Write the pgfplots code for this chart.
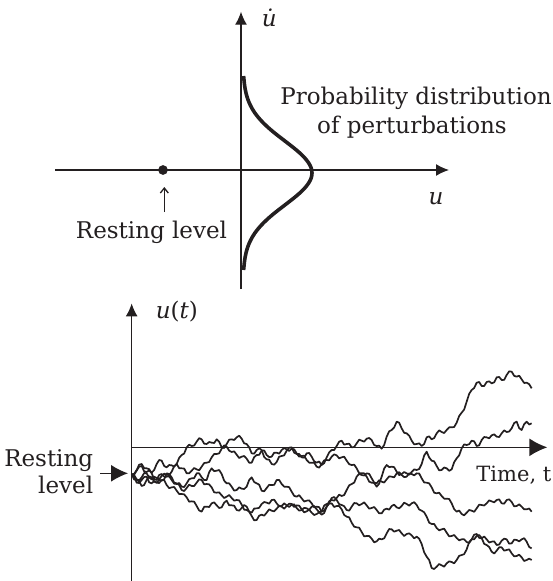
\documentclass[border=0pt]{standalone}
\usepackage{pgfplots}
\pgfplotsset{compat=1.18}
\usepackage{pgfplotstable}
\usepackage{fontspec}
\setmainfont{DejaVu Serif}
\usetikzlibrary{arrows.meta}
\definecolor{ink}{RGB}{35,31,32}

\pgfplotstableread{
X A B C D E
35 403 403 403 403 403
42.5 403.5 405.5 401.5 409.5 418.5
50 392 418 390 428 420
57.5 380 421 374 429 424
65 378 412 372 420 438
72.5 394 399 384.5 411 435
80 396 400 385 410 420
87.5 391 413 387.5 427 409
95 398 418 400 430 412
102.5 390 410 417 423 425
110 372 414 420 428 428
117.5 360 418 405 429 419
125 362 408 402 420 422
132.5 378 401 410 420.5 418
140 382 404 410 435 400
147.5 375 405.5 409 444.5 402
155 376 395 420 442 412
162.5 380 378.5 431 441 428
170 372 372 432 452 430
177.5 353.5 384.5 429 462 435
185 345 385 440 462 450
192.5 340.5 385.5 441 463 453
200 322 400 430 472 444
207.5 314 400 417.5 485 434
215 318 392 415 484 438
222.5 316.5 384 414.5 485 438
230 305 388 400 498 428
237.5 294.5 391 400 511.5 418
245 298 380 412 515 420
252.5 311 369 420 500.5 433
260 312 368 420 500 432
267.5 306 366 396.5 501 433
275 308 352 385 490 442
282.5 309 342 393.5 487 457
290 298 342 392 496 458
297.5 305 340 390 504 457
305 322 326 402 502 466
312.5 324 316 422 488 474
320 312 320 430 482 470
327.5 299 332 430 496 465
335 298 336 440 496 474
342.5 300 334 452 497 482
350 292 344 450 510 480
357.5 287 354 442 512 481
365 296 350 446 504 494
372.5 310 348 447 495 509
380 312 356 440 500 510
387.5 322 368 420 515 515
395 340 368 412 518 528
402.5 341 351.5 426 505.5 541
410 330 345 430 505 540
417.5 325 344.5 434 503.5 527
425 330 332 452 492 524
432.5 351 331.5 454 486 527
440 358 345 444 488 518
447.5 359 351.5 434.5 491 508
455 372 350 435 480 512
462.5 374 338 434.5 479 514
470 366 338 420 490 506
477.5 350 341 420 499 497
485 348 330 432 498 500
492.5 346 324 440 490 506
500 332 328 440 496 498
507.5 323 333 441.5 501 491
515 322 326 455 494 492
522.5 338 328 467.5 493 501
530 342 340 470 504 496
537.5 342 350 465.5 512 497
545 352 348 475 510 508
552.5 353 347 484.5 503.5 517
560 340 360 482 505 514
567.5 339 368 481 509.5 509
575 350 368 490 500 518
582.5 364 368 502 498 525
590 368 380 500 508 522
597.5 364.5 383 501.5 516.5 517
605 375 372 515 515 524
612.5 369.5 361 511.5 496.5 519
620 352 360 500 492 500
627.5 337 361 484 489 491
635 330 350 480 474 490
642.5 330 343 482 471 501
650 318 346 474 480 498
657.5 305 355 464 492.5 498
665 302 352 468 495 508
672.5 314 350 465 498.5 525
680 312 362 450 510 530
687.5 311 372.5 436 512 532
695 322 375 432 500 548
702.5 321 374 428 489 560
710 310 385 410 490 562
717.5 299 399.5 401.5 496 563
725 302 400 405 492 576
732.5 305 400 406.5 487 589
740 296 410 400 496 588
747.5 294 425 401.5 506 588
755 300 428 415 504 596
762.5 315 429 427.5 501 607
770 318 440 430 510 604
777.5 317 431 420.5 520 596
785 326 410 425 520 598
792.5 315 385.5 427.5 509 595
800 290 375 418 506 580
807.5 274 381.5 409 509 567
815 270 380 410 498 568
822.5 262.5 381.5 412 494 575
830 245 395 400 502 572
837.5 248 405.5 396.5 505 570
845 265 402 405 498 580
852.5 278.5 396 411.5 488 588
860 280 400 410 492 582
867.5 287 404 400 497 580
875 302 396 402 490 586
882.5 313 388 406 486.5 595
890 312 390 400 495 590
897.5 310 387 400.5 508.5 596
905 318 372 415 512 612
912.5 312 346.5 427.5 517 637
920 292 335 428 530 650
927.5 289 352.5 430 548 660
935 298 362 442 552 684
942.5 294 364 458 552 687
950 280 378 460 564 680
957.5 271 391 458 571 672
965 276 390 468 568 676
972.5 279 382.5 476 566 680
980 270 385 476 578 670
987.5 262 392.5 477 589 664
995 262 388 490 588 666
1002.5 261 366.5 507.5 585 670
1010 248 355 515 594 660
1017.5 228 346 511.5 601 647.5
1025 218 325 522 598 645
1032.5 208.5 313 526 598 642.5
1040 185 315 518 606 628
1047.5 161.5 312.5 510 609 606
1055 150 302 512 598 598
1062.5 144 304 515.5 584 598
1070 128 318 505 582 588
1077.5 126 316 494 593.5 585
1085 138 300 495 595 594
1092.5 138 291 496.5 589.5 611.5
1100 126 292 490 598 615
1107.5 124 295 481 607.5 621
1115 130 286 484 605 635
1122.5 127 283 487 604 640.5
1130 112 290 480 615 632
1137.5 111 291 478 613.5 622
1145 120 280 490 602 622
1152.5 119.5 271 491 596 632
1160 105 276 480 598 630
1167.5 94 274.5 478 611 628
1175 95 265 486 610 640
1182.5 107.5 249 499 599 649
1190 110 245 498 600 648
1197.5 107 264.5 493 604 644
1205 118 270 500 598 652
1212.5 129 252.5 508 594.5 663
1220 128 245 508 605 660
1227.5 132.5 253.5 505.5 621 656
1235 145 250 515 625 660
}\walks

\begin{document}
\fontsize{23}{29}\selectfont
\begin{tikzpicture}
% top panel + all labels, coordinates in image pixels (y downwards)
\begin{axis}[name=top, at={(0,0)}, anchor=south west,
  width=552pt, height=581pt, scale only axis,
  xmin=0, xmax=552, ymin=0, ymax=581, y dir=reverse,
  hide axis, clip=false]
\addplot[ink, line width=1.3pt, -{Latex[length=13pt,width=12pt]}] coordinates {(55,170) (449,170)};
\addplot[ink, line width=1.3pt, -{Latex[length=13pt,width=12pt]}] coordinates {(241,289) (241,11.7)};
\addplot[ink, only marks, mark=*, mark size=4.6pt] coordinates {(163,170)};
\addplot[ink, line width=1.3pt, -{Straight Barb[length=5pt,width=8pt]}] coordinates {(164.3,212) (164.3,187)};
\addplot[ink, line width=3.6pt, smooth] coordinates {
(243.6,76) (244.3,83) (245,88) (246,93) (247.4,98) (249.3,103) (251.8,108)
(254.9,113) (258.8,118) (263.4,123) (268.7,128) (274.6,133) (281,138)
(287.5,143) (293.9,148) (299.8,153) (304.8,158) (308.7,163) (311.2,168)
(312,173)
(311.2,178) (308.7,183) (304.8,188) (299.8,193) (293.9,198) (287.5,203)
(281,208) (274.6,213) (268.7,218) (263.4,223) (258.8,228) (254.9,233)
(251.8,238) (249.3,243) (247.4,248) (246,253) (245,258) (244.3,263) (243.6,270)};
\node[ink, anchor=base west] at (axis cs:254,26.7) {\textit{\.{u}}};
\node[ink, anchor=base] at (axis cs:416,104) {Probability distribution};
\node[ink, anchor=base] at (axis cs:412,133) {of perturbations};
\node[ink, anchor=base] at (axis cs:436,204) {\textit{u}};
\node[ink, anchor=base] at (axis cs:151.5,238) {Resting level};
% bottom labels
\node[ink, anchor=base west] at (axis cs:148,318) {\textit{u}(\textit{t})};
\node[ink, anchor=base east, inner sep=0pt] at (axis cs:551.5,481.7) {\fontsize{21}{25}\selectfont Time, t};
\node[ink, anchor=base east] at (axis cs:101,466) {Resting};
\node[ink, anchor=base east] at (axis cs:101,493) {level};
\addplot[ink, line width=1.3pt, -{Latex[length=17pt,width=17pt]}] coordinates {(100,473.3) (128,473.3)};
\end{axis}
% bottom panel, coordinates = (x-120)*3, (y-340)*3
\begin{axis}[at={(0,0)}, anchor=south west,
  width=552pt, height=581pt, scale only axis,
  xmin=-360, xmax=1296, ymin=-1020, ymax=723, y dir=reverse,
  hide axis, clip=false]
\addplot[ink, line width=1.6pt, -{Latex[length=13pt,width=12pt]}] coordinates {(35,723) (35,-110)};
\addplot[ink, line width=1.6pt, -{Latex[length=18pt,width=18pt]}] coordinates {(35,322) (1282,322)};
\pgfplotsinvokeforeach{A,B,C,D,E}{
  \addplot[ink, line width=1.7pt, line join=round] table[x=X, y=#1] {\walks};
}
\end{axis}
\pgfresetboundingbox
\path[use as bounding box] (top.south west) rectangle (top.north east);
\end{tikzpicture}
\end{document}
